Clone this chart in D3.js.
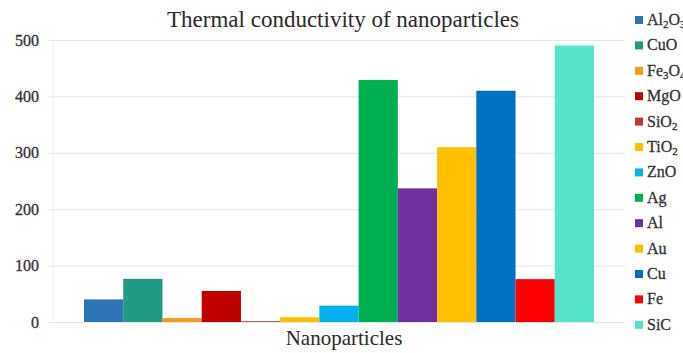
<!DOCTYPE html>
<html>
<head>
<meta charset="utf-8">
<script src="https://cdn.jsdelivr.net/npm/d3@7"></script>
<style>
  html, body { margin: 0; padding: 0; background: #fff; }
  svg { display: block; }
</style>
</head>
<body>
<svg id="chart" width="683" height="353"></svg>
<script>
// Thermal conductivity (W/m·K) of common nanoparticle materials
const categories = ["Nanoparticles"];
const materials = ["Al2O3", "CuO", "Fe3O4", "MgO", "SiO2", "TiO2", "ZnO", "Ag", "Al", "Au", "Cu", "Fe", "SiC"];
const conductivity = [40, 76.5, 7, 55, 1.4, 8.4, 29, 429, 237, 310, 410, 76, 490];
const colors = ["#2e75b6", "#1f9a83", "#f39c1f", "#c00000", "#c0392b", "#ffc000", "#00b0f0",
                "#00b050", "#7030a0", "#ffc000", "#0070c0", "#ff0000", "#55e3c9"];
const yTicks = [0, 100, 200, 300, 400, 500];

const svg = d3.select("#chart");
const serif = "Liberation Serif";

const plot = { left: 53, right: 625, top: 40, bottom: 322 };

const y = d3.scaleLinear().domain([0, 500]).range([plot.bottom, plot.top]);
const x0 = d3.scaleBand().domain(categories).range([plot.left, plot.right])
  .paddingInner(0).paddingOuter(0.0608);
const x1 = d3.scaleBand().domain(materials).range([0, x0.bandwidth()]).padding(0);
const color = d3.scaleOrdinal().domain(materials).range(colors);

// horizontal gridlines and value labels
const yAxis = d3.axisLeft(y).tickValues(yTicks).tickSize(-(plot.right - plot.left + 5)).tickPadding(9);
const gy = svg.append("g").attr("transform", `translate(${plot.left - 5},0)`).call(yAxis);
gy.attr("font-family", null).attr("font-size", null);
gy.select(".domain").remove();
gy.selectAll(".tick line").attr("stroke", "#e4e4e4").attr("stroke-width", 1);
gy.selectAll(".tick text")
  .style("font-family", serif).style("font-size", "16px")
  .attr("fill", "#333").attr("stroke", "#333").attr("stroke-width", 0.3);

// left edge of plot area
svg.append("line")
  .attr("x1", plot.left).attr("x2", plot.left)
  .attr("y1", plot.top).attr("y2", plot.bottom)
  .attr("stroke", "#ececec");

// bars
const group = svg.append("g").selectAll("g").data(categories).join("g")
  .attr("transform", d => `translate(${x0(d)},0)`);
group.selectAll("rect")
  .data(materials.map((m, i) => ({ m, v: conductivity[i] })))
  .join("rect")
  .attr("x", d => x1(d.m))
  .attr("width", x1.bandwidth())
  .attr("y", d => y(d.v))
  .attr("height", d => y(0) - y(d.v))
  .attr("fill", d => color(d.m));

// title and axis title
svg.append("text")
  .attr("x", 343).attr("y", 27).attr("text-anchor", "middle")
  .style("font-family", serif).style("font-size", "23px").attr("fill", "#2b2b2b")
  .text("Thermal conductivity of nanoparticles");

svg.append("text")
  .attr("x", 344).attr("y", 345).attr("text-anchor", "middle")
  .style("font-family", serif).style("font-size", "21px").attr("fill", "#2b2b2b")
  .text(categories[0]);

// legend with chemical subscripts
const legend = svg.append("g");
const rows = legend.selectAll("g").data(materials).join("g")
  .attr("transform", (d, i) => `translate(635,${20 + i * 25.4})`);
rows.append("rect")
  .attr("x", 0).attr("y", -4).attr("width", 8).attr("height", 8)
  .attr("fill", d => color(d));
rows.append("text")
  .attr("x", 12).attr("y", 5)
  .style("font-family", serif).style("font-size", "16px")
  .attr("fill", "#333").attr("stroke", "#333").attr("stroke-width", 0.3)
  .each(function (d) {
    const t = d3.select(this);
    d.match(/[A-Za-z]+|\d+/g).forEach(part => {
      const span = t.append("tspan").text(part);
      if (/\d/.test(part)) span.attr("baseline-shift", "-25%").style("font-size", "11px");
    });
  });
</script>
</body>
</html>
